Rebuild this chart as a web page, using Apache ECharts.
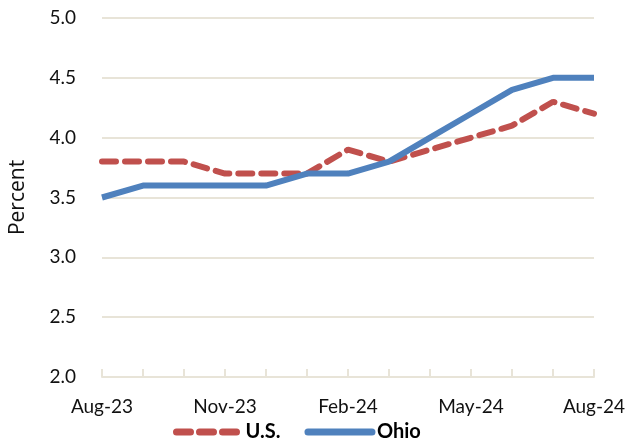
<!DOCTYPE html>
<html>
<head>
<meta charset="utf-8">
<script src="https://cdn.jsdelivr.net/npm/echarts@6/dist/echarts.min.js"></script>
<style>
html, body { margin: 0; padding: 0; background: #fff; }
#chart { width: 634px; height: 447px; }
</style>
</head>
<body>
<div id="chart"></div>
<script>
var months = ['Aug-23', 'Sep-23', 'Oct-23', 'Nov-23', 'Dec-23', 'Jan-24', 'Feb-24',
              'Mar-24', 'Apr-24', 'May-24', 'Jun-24', 'Jul-24', 'Aug-24'];
var usRate = [3.8, 3.8, 3.8, 3.7, 3.7, 3.7, 3.9, 3.8, 3.9, 4.0, 4.1, 4.3, 4.2];
var ohioRate = [3.5, 3.6, 3.6, 3.6, 3.6, 3.7, 3.7, 3.8, 4.0, 4.2, 4.4, 4.5, 4.5];

var font = 'Lato';
var chart = echarts.init(document.getElementById('chart'));

var option = {
    animation: false,
    textStyle: { fontFamily: font },
    grid: { left: 101, right: 40, top: 18, bottom: 70 },
    legend: {
        bottom: 0,
        left: 168,
        itemWidth: 64,
        itemHeight: 10,
        itemGap: 24,
        lineStyle: { width: 7, cap: 'round' },
        itemStyle: { opacity: 0, borderWidth: 0 },
        textStyle: { fontSize: 20, fontWeight: 'bold', color: '#000', fontFamily: font },
        data: ['U.S.', 'Ohio']
    },
    xAxis: {
        type: 'category',
        data: months,
        boundaryGap: false,
        axisLine: { lineStyle: { color: '#e8e4d8', width: 2 } },
        axisTick: { show: true, interval: 0, length: 8, inside: true, lineStyle: { color: '#e8e4d8', width: 2 } },
        axisLabel: { interval: 2, fontSize: 19, color: '#111', margin: 20 }
    },
    yAxis: {
        type: 'value',
        min: 2.0,
        max: 5.0,
        interval: 0.5,
        name: 'Percent',
        nameLocation: 'middle',
        nameGap: 73,
        nameTextStyle: { fontSize: 21, color: '#111', fontFamily: 'Open Sans' },
        axisLine: { show: false },
        axisTick: { show: false },
        axisLabel: { fontSize: 19, color: '#111', margin: 26, formatter: function (v) { return v.toFixed(1); } },
        splitLine: { lineStyle: { color: '#e8e4d8', width: 2 } }
    },
    series: [
        {
            name: 'U.S.',
            type: 'line',
            data: usRate,
            symbol: 'none',
            itemStyle: { color: '#c0504d' },
            lineStyle: { color: '#c0504d', width: 6, type: [14, 9], cap: 'round' }
        },
        {
            name: 'Ohio',
            type: 'line',
            data: ohioRate,
            symbol: 'none',
            itemStyle: { color: '#4f81bd' },
            lineStyle: { color: '#4f81bd', width: 6 }
        }
    ]
};

chart.setOption(option);
</script>
</body>
</html>
